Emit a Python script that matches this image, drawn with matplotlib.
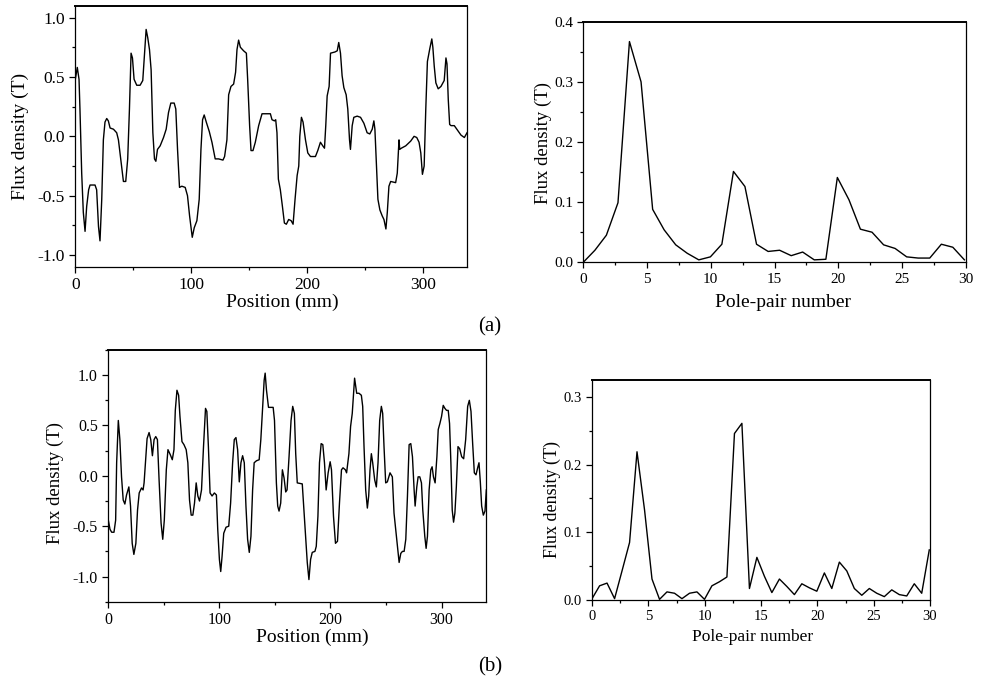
import matplotlib
matplotlib.use('Agg')
import matplotlib.pyplot as plt
from matplotlib.ticker import MultipleLocator, FormatStrFormatter

plt.rcParams['font.family'] = ['Liberation Serif', 'DejaVu Serif']
plt.rcParams['axes.unicode_minus'] = False

# (a) flux density waveform along the position
pos_a = [0, 1.7, 3.2, 4, 5.5, 6.9, 8.4, 9.8, 11.5, 12.7,
         17, 18.4, 20, 21.3, 22.8, 24.2, 25.6, 27.1, 28.5, 30,
         32.9, 35.7, 37.2, 39.2, 41.5, 43.5, 45.2, 46.7, 48.1, 49.3,
         50.7, 53, 55.9, 58.2, 59.7, 61.1, 62.5, 64, 65.4, 66.9,
         68.3, 69.5, 70.9, 73.2, 76.1, 78.4, 80.4, 82.4, 85.3, 86.7,
         88.2, 89.9, 91.9, 94.8, 96.8, 98.6, 100.9, 102.6, 104.9, 106.9,
         108.4, 109.8, 111.2, 113, 115.6, 117.9, 120.7, 123.6, 127.4, 128.8,
         130.8, 132.3, 134.3, 136.6, 138.3, 139.5, 140.9, 142.4, 145.2, 147.6,
         148.7, 150.4, 151.6, 153.3, 155.3, 158.2, 161.1, 165.4, 168.3, 169.7,
         171.8, 172.9, 174, 175.2, 176.9, 178.7, 180.4, 182.1, 184.1, 186.2,
         187.9, 189.6, 191.4, 192.8, 193.7, 195.1, 196.5, 198.6, 200.6, 202.9,
         207.2, 209.2, 211.5, 213.5, 215, 216.1, 217.3, 219, 220.2, 224,
         226, 227.3, 228.8, 230.2, 231.7, 233.7, 235.1, 236.6, 237.4, 238.9,
         240.3, 243.2, 246.1, 249, 251.8, 254.1, 256.2, 257.6, 258.5, 259.9,
         261.1, 262.8, 264.8, 266.3, 268, 269.2, 270.6, 272.1, 276.4, 277.8,
         279.3, 279.9, 281.3, 285.1, 289.4, 292.3, 294.6, 296.6, 298.1, 299.5,
         301, 302.4, 303.8, 305.9, 307.6, 308.5, 309.7, 311.1, 313.1, 315.5,
         318.3, 319.8, 320.7, 321.8, 323, 324.2, 327, 329.9, 332.8, 335.7,
         338]
flux_a = [0.48, 0.58, 0.48, 0.23, -0.31, -0.64, -0.80, -0.59, -0.45, -0.41,
          -0.41, -0.45, -0.76, -0.88, -0.53, -0.03, 0.12, 0.15, 0.13, 0.07,
          0.06, 0.03, -0.03, -0.19, -0.38, -0.38, -0.19, 0.23, 0.70, 0.66,
          0.48, 0.43, 0.43, 0.47, 0.70, 0.90, 0.83, 0.73, 0.56, 0.03,
          -0.19, -0.21, -0.11, -0.08, -0.01, 0.06, 0.20, 0.28, 0.28, 0.23,
          -0.11, -0.43, -0.42, -0.43, -0.50, -0.67, -0.85, -0.77, -0.71, -0.53,
          -0.11, 0.14, 0.18, 0.12, 0.04, -0.05, -0.19, -0.19, -0.20, -0.17,
          -0.03, 0.35, 0.42, 0.44, 0.54, 0.73, 0.81, 0.75, 0.72, 0.70,
          0.48, 0.09, -0.12, -0.12, -0.05, 0.09, 0.19, 0.19, 0.19, 0.14,
          0.13, 0.14, 0.03, -0.36, -0.45, -0.59, -0.73, -0.74, -0.70, -0.71,
          -0.74, -0.53, -0.33, -0.25, 0.00, 0.16, 0.12, -0.03, -0.14, -0.17,
          -0.17, -0.12, -0.05, -0.08, -0.10, 0.09, 0.34, 0.42, 0.70, 0.71,
          0.72, 0.79, 0.70, 0.51, 0.41, 0.35, 0.23, -0.03, -0.11, 0.09,
          0.16, 0.17, 0.16, 0.11, 0.03, 0.02, 0.06, 0.13, 0.06, -0.25,
          -0.53, -0.62, -0.67, -0.70, -0.78, -0.64, -0.42, -0.38, -0.39, -0.31,
          -0.03, -0.11, -0.10, -0.08, -0.04, 0.00, -0.01, -0.05, -0.14, -0.32,
          -0.25, 0.23, 0.63, 0.74, 0.82, 0.75, 0.59, 0.45, 0.40, 0.42,
          0.47, 0.66, 0.61, 0.31, 0.10, 0.09, 0.09, 0.05, 0.01, -0.01,
          0.03]

# (a) spectrum
pole_a = [0, 0.91, 1.81, 2.72, 3.62, 4.53, 5.44, 6.34, 7.25, 8.15,
          9.06, 9.97, 10.87, 11.78, 12.68, 13.59, 14.5, 15.4, 16.31, 17.21,
          18.12, 19.03, 19.93, 20.84, 21.74, 22.65, 23.56, 24.46, 25.37, 26.27,
          27.18, 28.09, 28.99, 29.9]
amp_a = [0, 0.020, 0.045, 0.099, 0.367, 0.300, 0.088, 0.054, 0.029, 0.015,
         0.004, 0.009, 0.030, 0.151, 0.126, 0.030, 0.018, 0.020, 0.011, 0.017,
         0.004, 0.005, 0.141, 0.104, 0.055, 0.050, 0.029, 0.023, 0.009, 0.007,
         0.007, 0.030, 0.025, 0.004]

# (b) flux density waveform
pos_b = [0, 1.5, 3, 5.1, 6.6, 7.5, 9, 10.4, 11.9, 13.4,
         14.9, 16.4, 18.5, 20, 21.5, 23, 24.8, 26.3, 27.8, 29.9,
         31.3, 32.2, 33.4, 34.9, 36.7, 38.2, 39.7, 41.2, 42.7, 44.2,
         45.7, 47.5, 49, 50.4, 52.2, 53.7, 55.8, 57.6, 59.1, 60.3,
         61.8, 63.3, 64.5, 66.3, 68.1, 70.1, 71.6, 73.1, 74.6, 76.1,
         77.6, 79.1, 80.6, 82.1, 83.9, 85.7, 87.5, 88.7, 90.1, 91.6,
         93.4, 95.5, 97.3, 98.5, 100, 101.2, 102.4, 103.9, 106, 108.4,
         110.1, 111.9, 113.4, 114.9, 116.4, 117.9, 119.4, 120.9, 122.4, 123.9,
         125.4, 126.9, 128.4, 129.9, 131.3, 133.4, 135.8, 137.3, 138.8, 140.3,
         141.2, 142.4, 144.2, 146.3, 148.4, 149.6, 151.3, 152.5, 153.7, 155.2,
         156.7, 158.2, 159.7, 160.9, 162.7, 164.5, 166, 167.5, 168.7, 170.1,
         174.6, 176.1, 177.6, 179.1, 180.6, 182.1, 183.6, 186, 187.2, 188.7,
         190.1, 191.6, 193.1, 194.6, 196.1, 197.9, 199.7, 200.9, 202.7, 204.5,
         206.3, 208.1, 209.9, 211.3, 213.4, 214.5, 216.6, 218.1, 219.6, 221.7,
         223.6, 225.7, 227.8, 229, 230.2, 231.7, 233.2, 234.4, 235.6, 236.8,
         238, 239.8, 241.3, 242.8, 244.3, 245.8, 247, 248.2, 249.7, 251.2,
         253.6, 255.7, 257.2, 258.7, 260.2, 261.8, 263.3, 264.8, 266.3, 267.8,
         269.3, 270.8, 272.3, 273.8, 275.3, 276.2, 277.7, 278.9, 280.4, 281.9,
         283.1, 284.9, 286.1, 287.3, 288.8, 290.3, 291.5, 292.7, 294.2, 295.8,
         297, 298.5, 300, 301.5, 303, 304.5, 306, 307.2, 308.4, 309.6,
         310.8, 312, 313.3, 314.8, 316.3, 318.1, 319.9, 321.7, 323.5, 325,
         326.5, 328, 329.5, 331, 332.5, 333.7, 334.9, 336.1, 337.6, 339.1,
         340.3]
flux_b = [-0.44, -0.53, -0.56, -0.56, -0.44, 0.13, 0.55, 0.36, -0.01, -0.24,
          -0.28, -0.19, -0.11, -0.30, -0.67, -0.78, -0.67, -0.34, -0.17, -0.12,
          -0.14, -0.07, 0.13, 0.37, 0.43, 0.36, 0.20, 0.36, 0.39, 0.36,
          -0.04, -0.47, -0.63, -0.44, 0.06, 0.26, 0.21, 0.16, 0.26, 0.65,
          0.85, 0.80, 0.59, 0.34, 0.31, 0.26, 0.13, -0.24, -0.39, -0.39,
          -0.27, -0.07, -0.20, -0.25, -0.14, 0.29, 0.67, 0.64, 0.29, -0.17,
          -0.20, -0.17, -0.19, -0.53, -0.83, -0.95, -0.80, -0.57, -0.51, -0.50,
          -0.27, 0.13, 0.36, 0.38, 0.26, -0.06, 0.13, 0.20, 0.13, -0.30,
          -0.63, -0.76, -0.60, -0.14, 0.13, 0.15, 0.16, 0.36, 0.65, 0.95,
          1.02, 0.85, 0.68, 0.68, 0.68, 0.55, -0.07, -0.30, -0.35, -0.27,
          0.06, -0.02, -0.16, -0.14, 0.19, 0.55, 0.69, 0.62, 0.22, -0.07,
          -0.08, -0.34, -0.60, -0.86, -1.03, -0.83, -0.76, -0.75, -0.70, -0.40,
          0.13, 0.32, 0.31, 0.13, -0.14, 0.03, 0.14, 0.06, -0.40, -0.67,
          -0.65, -0.27, 0.06, 0.08, 0.06, 0.03, 0.22, 0.49, 0.62, 0.97,
          0.82, 0.82, 0.80, 0.69, 0.29, -0.14, -0.32, -0.20, 0.06, 0.22,
          0.13, -0.04, -0.11, 0.13, 0.55, 0.69, 0.62, 0.29, -0.07, -0.06,
          0.03, -0.01, -0.37, -0.53, -0.70, -0.86, -0.77, -0.75, -0.75, -0.63,
          -0.20, 0.31, 0.32, 0.19, -0.14, -0.30, -0.11, -0.01, -0.01, -0.07,
          -0.34, -0.60, -0.72, -0.60, -0.14, 0.06, 0.09, -0.01, -0.07, 0.19,
          0.46, 0.52, 0.59, 0.70, 0.67, 0.65, 0.65, 0.52, 0.13, -0.34,
          -0.46, -0.37, -0.11, 0.29, 0.27, 0.19, 0.17, 0.36, 0.69, 0.75,
          0.64, 0.32, 0.03, 0.01, 0.08, 0.13, -0.06, -0.30, -0.39, -0.35,
          -0.14]

# (b) spectrum
pole_b = [0, 0.67, 1.33, 2.0, 2.66, 3.33, 3.99, 4.66, 5.32, 5.99,
          6.65, 7.32, 7.98, 8.65, 9.31, 9.98, 10.64, 11.31, 11.97, 12.64,
          13.3, 13.97, 14.63, 15.3, 15.96, 16.63, 17.29, 17.96, 18.62, 19.29,
          19.95, 20.62, 21.28, 21.95, 22.61, 23.28, 23.94, 24.61, 25.27, 25.94,
          26.6, 27.27, 27.93, 28.6, 29.26, 29.93]
amp_b = [0.002, 0.021, 0.025, 0.002, 0.043, 0.085, 0.219, 0.133, 0.031, 0.001,
         0.012, 0.010, 0.002, 0.010, 0.012, 0.001, 0.021, 0.027, 0.034, 0.246,
         0.261, 0.017, 0.063, 0.035, 0.011, 0.031, 0.020, 0.008, 0.024, 0.018,
         0.013, 0.040, 0.017, 0.056, 0.043, 0.017, 0.007, 0.017, 0.010, 0.005,
         0.015, 0.008, 0.006, 0.024, 0.010, 0.074]

fig = plt.figure(figsize=(9.82, 6.83), dpi=100)


def style(ax, tick_size):
    for side in ['left', 'right', 'bottom']:
        ax.spines[side].set_linewidth(0.9)
    ax.spines['top'].set_linewidth(1.4)
    ax.tick_params(which='both', direction='out', top=False, right=False,
                   labelsize=tick_size, width=0.9)
    ax.tick_params(which='major', length=4)
    ax.tick_params(which='minor', length=2.5)


# (a) waveform
ax1 = fig.add_axes([0.0767, 0.6091, 0.3989, 0.3826])
ax1.plot(pos_a, flux_a, color='black', lw=1.0)
ax1.set_xlim(0, 338)
ax1.set_ylim(-1.1, 1.1)
ax1.xaxis.set_major_locator(MultipleLocator(100))
ax1.xaxis.set_minor_locator(MultipleLocator(50))
ax1.yaxis.set_major_locator(MultipleLocator(0.5))
ax1.yaxis.set_minor_locator(MultipleLocator(0.25))
ax1.yaxis.set_major_formatter(FormatStrFormatter('%.1f'))
style(ax1, 12.5)
ax1.set_xlabel('Position (mm)', fontsize=14, va='center')
ax1.xaxis.set_label_coords(0.528, -0.134)
ax1.set_ylabel('Flux density (T)', fontsize=14, va='center')
ax1.yaxis.set_label_coords(-0.141, 0.5)

# (a) spectrum
ax2 = fig.add_axes([0.5940, 0.6160, 0.3894, 0.3522])
ax2.plot(pole_a, amp_a, color='black', lw=1.0)
ax2.set_xlim(0, 30)
ax2.set_ylim(0, 0.4)
ax2.xaxis.set_major_locator(MultipleLocator(5))
ax2.xaxis.set_minor_locator(MultipleLocator(2.5))
ax2.yaxis.set_major_locator(MultipleLocator(0.1))
ax2.yaxis.set_minor_locator(MultipleLocator(0.05))
ax2.yaxis.set_major_formatter(FormatStrFormatter('%.1f'))
style(ax2, 11)
ax2.set_xlabel('Pole-pair number', fontsize=14, va='center')
ax2.xaxis.set_label_coords(0.521, -0.166)
ax2.set_ylabel('Flux density (T)', fontsize=13.5, va='center')
ax2.yaxis.set_label_coords(-0.105, 0.496)

# (b) waveform
ax3 = fig.add_axes([0.1103, 0.1190, 0.3846, 0.3686])
ax3.plot(pos_b, flux_b, color='black', lw=1.0)
ax3.set_xlim(0, 340)
ax3.set_ylim(-1.25, 1.25)
ax3.xaxis.set_major_locator(MultipleLocator(100))
ax3.xaxis.set_minor_locator(MultipleLocator(50))
ax3.yaxis.set_major_locator(MultipleLocator(0.5))
ax3.yaxis.set_minor_locator(MultipleLocator(0.25))
ax3.yaxis.set_major_formatter(FormatStrFormatter('%.1f'))
style(ax3, 11.5)
ax3.set_xlabel('Position (mm)', fontsize=14, va='center')
ax3.xaxis.set_label_coords(0.54, -0.14)
ax3.set_ylabel('Flux density (T)', fontsize=13.5, va='center')
ax3.yaxis.set_label_coords(-0.141, 0.47)

# (b) spectrum
ax4 = fig.add_axes([0.6029, 0.1215, 0.3442, 0.3221])
ax4.plot(pole_b, amp_b, color='black', lw=1.0)
ax4.set_xlim(0, 30)
ax4.set_ylim(0, 0.325)
ax4.xaxis.set_major_locator(MultipleLocator(5))
ax4.xaxis.set_minor_locator(MultipleLocator(2.5))
ax4.yaxis.set_major_locator(MultipleLocator(0.1))
ax4.yaxis.set_minor_locator(MultipleLocator(0.05))
ax4.yaxis.set_major_formatter(FormatStrFormatter('%.1f'))
style(ax4, 10.5)
ax4.set_xlabel('Pole-pair number', fontsize=12.5, va='center')
ax4.xaxis.set_label_coords(0.475, -0.168)
ax4.set_ylabel('Flux density (T)', fontsize=13, va='center')
ax4.yaxis.set_label_coords(-0.118, 0.455)

fig.text(0.499, 0.522, '(a)', fontsize=15, ha='center', va='center')
fig.text(0.499, 0.024, '(b)', fontsize=15, ha='center', va='center')

fig.savefig('out.png', dpi=100)
